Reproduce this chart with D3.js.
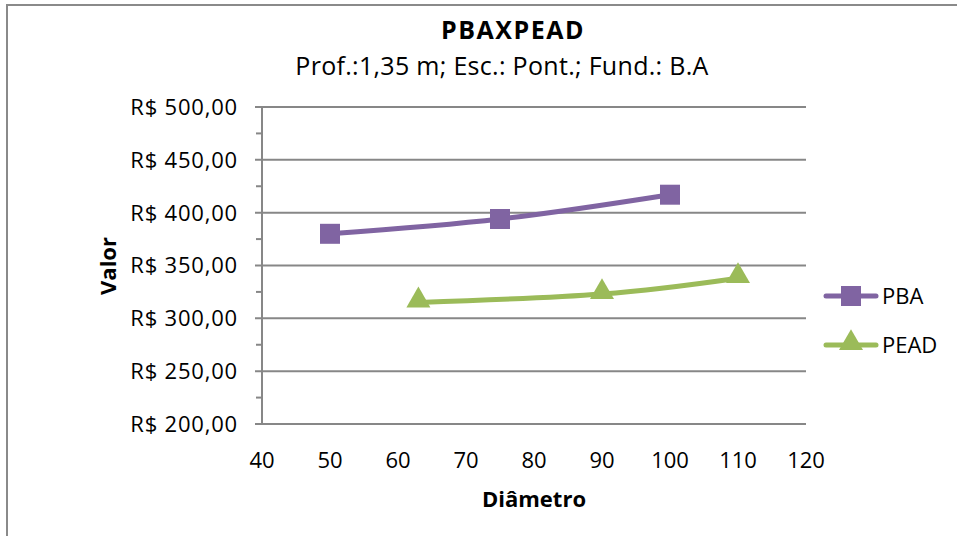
<!DOCTYPE html>
<html>
<head>
<meta charset="utf-8">
<script src="https://cdn.jsdelivr.net/npm/d3@7"></script>
<style>
  body { margin: 0; background: white; }
  text { font-family: "Open Sans", "Noto Sans", sans-serif; fill: #000; }
</style>
</head>
<body>
<div id="GraphHolder"></div>
<script>
// data
var pbaDiam = [50, 75, 100];
var pbaValor = [380, 394, 417];
var peadDiam = [63, 90, 110];
var peadValor = [315, 323, 338];
var xTicks = [40, 50, 60, 70, 80, 90, 100, 110, 120];
var yTicks = [200, 250, 300, 350, 400, 450, 500];
var seriesNames = ["PBA", "PEAD"];

var W = 957, H = 536;
var margin = {top: 107, left: 262, right: 151, bottom: 112};
var width = W - margin.left - margin.right,
    height = H - margin.top - margin.bottom;

var svg = d3.select("#GraphHolder").append("svg")
    .attr("width", W)
    .attr("height", H);

// chart border
svg.append("rect")
    .attr("x", 7).attr("y", 5)
    .attr("width", W + 10).attr("height", H + 10)
    .attr("fill", "white")
    .attr("stroke", "#8a8a8a")
    .attr("stroke-width", 2);

var g = svg.append("g")
    .attr("transform", "translate(" + margin.left + "," + margin.top + ")");

var x = d3.scaleLinear().domain([40, 120]).range([0, width]);
var y = d3.scaleLinear().domain([200, 500]).range([height, 0]);

// gridlines
g.selectAll(".grid")
    .data(yTicks)
    .enter().append("line")
    .attr("class", "grid")
    .attr("x1", -7).attr("x2", width)
    .attr("y1", function(d) { return y(d); })
    .attr("y2", function(d) { return y(d); })
    .attr("stroke", "#878787")
    .attr("stroke-width", 2);

// minor ticks
var minor = d3.range(225, 500, 50);
g.selectAll(".minor")
    .data(minor)
    .enter().append("line")
    .attr("x1", -6).attr("x2", 0)
    .attr("y1", function(d) { return y(d); })
    .attr("y2", function(d) { return y(d); })
    .attr("stroke", "#878787")
    .attr("stroke-width", 2);

// y axis line
g.append("line")
    .attr("x1", 0).attr("x2", 0)
    .attr("y1", 0).attr("y2", height)
    .attr("stroke", "#878787")
    .attr("stroke-width", 2);

// y labels
g.selectAll(".ylab")
    .data(yTicks)
    .enter().append("text")
    .attr("x", -24)
    .attr("y", function(d) { return y(d); })
    .attr("dy", "0.36em")
    .attr("text-anchor", "end")
    .style("font-size", "22px")
    .style("letter-spacing", "0.8px")
    .text(function(d) { return "R$ " + d3.format(".2f")(d).replace(".", ","); });

// x labels
g.selectAll(".xlab")
    .data(xTicks)
    .enter().append("text")
    .attr("x", function(d) { return x(d); })
    .attr("y", height + 44)
    .attr("text-anchor", "middle")
    .style("font-size", "22px")
    .text(function(d) { return d; });

// axis titles
svg.append("text")
    .attr("x", 534).attr("y", 507)
    .attr("text-anchor", "middle")
    .style("font-size", "22px").style("font-weight", "bold")
    .text("Diâmetro");
svg.append("text")
    .attr("transform", "translate(116,266) rotate(-90)")
    .attr("text-anchor", "middle")
    .style("font-size", "22px").style("font-weight", "bold")
    .text("Valor");

// titles
svg.append("text")
    .attr("x", 513).attr("y", 39)
    .attr("text-anchor", "middle")
    .style("font-size", "25px").style("font-weight", "bold")
    .style("letter-spacing", "1.5px")
    .text("PBAXPEAD");
svg.append("text")
    .attr("x", 502).attr("y", 75)
    .attr("text-anchor", "middle")
    .style("font-size", "25px")
    .style("letter-spacing", "0.3px")
    .text("Prof.:1,35 m; Esc.: Pont.; Fund.: B.A");

var line = d3.line()
    .x(function(d) { return x(d[0]); })
    .y(function(d) { return y(d[1]); })
    .curve(d3.curveCatmullRom.alpha(0));

var pba = d3.zip(pbaDiam, pbaValor);
var pead = d3.zip(peadDiam, peadValor);
var colors = ["#8064a2", "#9bbb59"];

g.append("path").datum(pba)
    .attr("d", line).attr("fill", "none")
    .attr("stroke", colors[0]).attr("stroke-width", 5).attr("stroke-linecap", "round");
g.append("path").datum(pead)
    .attr("d", line).attr("fill", "none")
    .attr("stroke", colors[1]).attr("stroke-width", 5).attr("stroke-linecap", "round");

var sq = d3.symbol().type(d3.symbolSquare).size(400);
var tri = d3.symbol().type(d3.symbolTriangle).size(250);

g.selectAll(".pba").data(pba).enter().append("path")
    .attr("d", sq)
    .attr("transform", function(d) { return "translate(" + x(d[0]) + "," + y(d[1]) + ")"; })
    .attr("fill", colors[0]);
g.selectAll(".pead").data(pead).enter().append("path")
    .attr("d", tri)
    .attr("transform", function(d) { return "translate(" + x(d[0]) + "," + (y(d[1]) - 2) + ")"; })
    .attr("fill", colors[1]);

// legend
var leg = svg.append("g");
seriesNames.forEach(function(name, i) {
    var ly = 296 + i * 49;
    leg.append("line")
        .attr("x1", 826).attr("x2", 876)
        .attr("y1", ly).attr("y2", ly)
        .attr("stroke", colors[i]).attr("stroke-width", 5).attr("stroke-linecap", "round");
    leg.append("path")
        .attr("d", i === 0 ? sq : tri)
        .attr("transform", "translate(851," + (i === 0 ? ly : ly - 2) + ")")
        .attr("fill", colors[i]);
    leg.append("text")
        .attr("x", 882).attr("y", ly)
        .attr("dy", "0.36em")
        .style("font-size", "22px")
        .text(name);
});
</script>
</body>
</html>
